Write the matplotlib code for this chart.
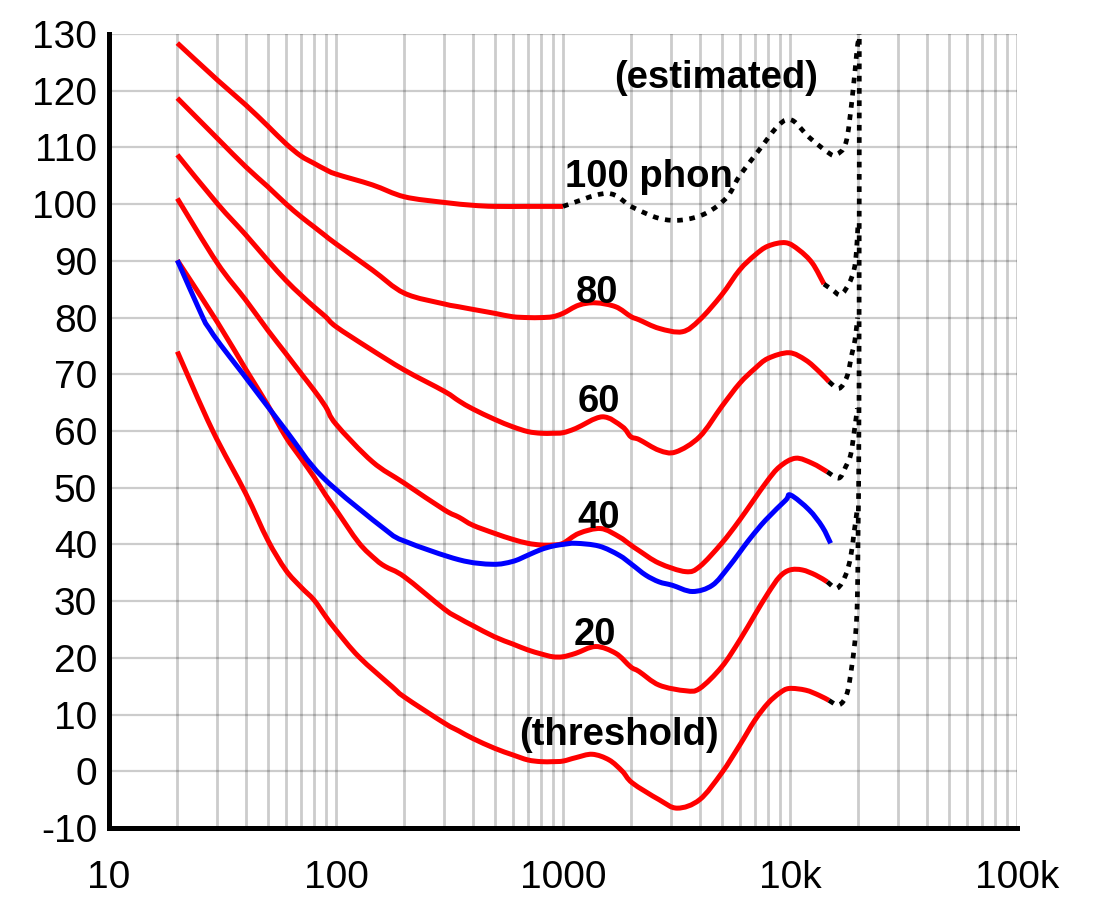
import numpy as np
import matplotlib
matplotlib.use("Agg")
import matplotlib.pyplot as plt
from matplotlib.path import Path
from matplotlib.patches import PathPatch
from matplotlib.ticker import FixedLocator, LogLocator, NullFormatter

plt.rcParams['font.family'] = ['Liberation Sans', 'DejaVu Sans']

# ---- data (frequency in Hz, level in dB SPL) ----
f_thr = [20, 28.5, 40, 50, 60, 70, 80, 90, 100, 126, 177, 200, 300, 348, 400, 500, 600, 700,
         800, 900, 1000, 1138, 1346, 1596, 1826, 2020, 2648, 3187, 4000, 5000, 6000, 7000,
         8000, 9000, 9909, 11730, 13420, 14850]
L_thr = [74.0, 60.2, 49.0, 40.8, 35.5, 32.5, 30.2, 27.3, 24.9, 20.2, 14.9, 13.1, 8.5, 7.1, 5.8,
         4.05, 2.9, 2.0, 1.7, 1.7, 1.8, 2.4, 3.0, 2.0, 0.0, -2.05, -5.0, -6.5, -5.0, -0.3, 4.6,
         9.0, 12.0, 13.8, 14.6, 14.3, 13.4, 12.5]

f_20 = [20, 30, 40, 50, 60, 70, 80, 90, 100, 126, 150, 165, 200, 300, 348, 400, 500, 600, 700,
        800, 900, 1000, 1138, 1393, 1708, 1988, 2163, 2648, 3470, 4000, 5000, 6000, 7000, 8000,
        9000, 10000, 11330, 12970, 14600]
L_20 = [90.1, 79.2, 70.9, 64.6, 59.0, 55.2, 51.9, 48.7, 46.1, 40.3, 37.3, 36.1, 34.3, 28.6, 27.0,
        25.7, 23.7, 22.45, 21.4, 20.7, 20.2, 20.2, 20.8, 22.0, 20.8, 18.4, 17.6, 15.2, 14.2,
        14.6, 18.4, 23.1, 27.6, 31.4, 34.3, 35.5, 35.5, 34.6, 33.4]

f_40 = [20, 30, 40, 50, 60, 70, 80, 90, 100, 144.5, 200, 300, 348, 400, 500, 600, 700, 800, 900,
        1000, 1175, 1466, 1766, 1988, 2163, 2648, 3470, 4000, 5000, 6000, 7811, 9000, 10590,
        12540, 14600]
L_40 = [101.0, 89.6, 83.1, 77.8, 73.7, 70.2, 67.2, 64.3, 61.2, 54.6, 50.8, 46.1, 44.8, 43.4,
        41.95, 40.9, 40.2, 39.9, 39.9, 40.2, 41.95, 42.8, 41.35, 39.9, 38.9, 36.7, 35.2, 36.1,
        40.2, 44.3, 50.8, 53.7, 55.2, 54.3, 52.8]

f_60 = [20, 30, 40, 50, 60, 70, 80, 90, 100, 139.7, 200, 300, 348, 400, 500, 600, 700, 800, 900,
        1000, 1138, 1490, 1826, 1988, 2163, 2648, 3135, 4000, 5000, 6000, 7000, 8000, 9909,
        11730, 13420, 14850]
L_60 = [108.7, 100.1, 94.6, 90.1, 86.6, 84.0, 81.9, 80.15, 78.4, 74.6, 70.75, 67.0, 65.3, 63.9,
        62.05, 60.75, 59.9, 59.6, 59.6, 59.7, 60.45, 62.5, 60.75, 59.0, 58.5, 56.6, 56.3, 59.0,
        64.3, 68.4, 71.0, 72.8, 73.8, 72.5, 70.5, 68.7]

f_80 = [20, 30, 40, 50, 60, 70, 80, 90, 100, 144.5, 200, 300, 348, 400, 500, 600, 700, 800, 900,
        1000, 1175, 1393, 1708, 1988, 2163, 2648, 3355, 4000, 5000, 6000, 7000, 8000, 9569,
        10960, 12540, 14120]
L_80 = [118.7, 111.6, 106.6, 103.1, 100.1, 97.8, 96.0, 94.4, 93.0, 88.4, 84.3, 82.4, 81.9, 81.45,
        80.75, 80.15, 80.0, 80.0, 80.15, 80.75, 82.2, 82.6, 81.9, 80.2, 79.6, 78.1, 77.5, 79.6,
        84.0, 88.4, 91.0, 92.6, 93.2, 91.9, 89.6, 85.9]

f_100 = [20, 30, 40, 50, 60, 70, 80, 90, 100, 144.5, 200, 300, 400, 500, 700, 1000]
L_100 = [128.4, 121.9, 117.5, 113.8, 110.7, 108.5, 107.2, 106.1, 105.3, 103.4, 101.3, 100.3,
         99.8, 99.6, 99.6, 99.6]

f_blue = [20, 25.8, 27.6, 31.0, 38.7, 59.9, 87.1, 165, 203, 348, 489, 600, 700, 800, 900, 1000,
          1138, 1443, 1766, 2020, 2312, 2648, 3030, 3715, 4548, 5386, 6597, 7811, 9570, 10070,
          12130, 13880, 15100]
L_blue = [90.1, 80.15, 78.1, 75.2, 70.2, 60.2, 51.9, 42.6, 40.5, 37.3, 36.5, 37.0, 38.1, 39.1,
          39.7, 40.0, 40.2, 39.7, 38.1, 36.4, 34.6, 33.4, 32.8, 31.7, 32.8, 36.1, 40.8, 44.3,
          47.8, 48.7, 46.1, 43.1, 40.2]

# estimated (dotted) continuations
fe_100 = [1000, 1563, 2014, 2648, 3340, 4266, 5272, 5957, 7295, 8951, 10210, 12130, 14850,
          15950, 17620, 18760, 19730, 20140, 20200]
Le_100 = [99.6, 101.9, 99.5, 97.5, 97.2, 98.4, 101.2, 104.8, 109.5, 114.0, 114.8, 111.8, 109.0,
          108.7, 110.8, 118.4, 127.2, 129.8, 135]
fe_80 = [14120, 15360, 16720, 18190, 19140, 19590, 19900]
Le_80 = [85.9, 84.9, 84.0, 86.0, 88.4, 91.4, 96.0]
fe_60 = [14850, 16430, 17820, 18760, 19320, 19850]
Le_60 = [68.7, 67.5, 69.6, 73.7, 76.0, 80.0]
fe_40 = [14600, 16430, 17590, 18500, 19140, 19800]
Le_40 = [52.8, 51.7, 53.7, 55.8, 59.6, 64.0]
fe_20 = [14600, 16150, 17590, 18500, 19140, 19750]
Le_20 = [33.4, 32.3, 34.6, 37.8, 42.0, 46.0]
fe_thr = [14850, 16430, 17820, 18790, 19460, 19790, 19950, 20140, 20200]
Le_thr = [12.5, 11.7, 13.7, 19.0, 24.3, 30.2, 42.0, 65.5, 135]

yticks = list(range(-10, 131, 10))
ytick_labels = ['-10', '0', '10', '20', '30', '40', '50', '60', '70', '80', '90', '100',
                '110', '120', '130']
xticks = [10, 100, 1000, 10000, 100000]
xtick_labels = ['10', '100', '1000', '10k', '100k']

labels = ['(estimated)', '100 phon', '80', '60', '40', '20', '(threshold)']
label_f = [4742, 2393, 1413, 1442, 1442, 1384, 1766]
label_L = [120.5, 103.0, 82.6, 63.4, 42.9, 22.3, 4.6]


def smooth_path(f, L):
    # Catmull-Rom through the read points, built in log-frequency space
    p = np.column_stack([np.log10(f), L])
    p = np.vstack([p[0], p, p[-1]])
    verts = [p[1]]
    codes = [Path.MOVETO]
    for i in range(1, len(p) - 2):
        c1 = p[i] + (p[i + 1] - p[i - 1]) / 6.
        c2 = p[i + 1] - (p[i + 2] - p[i]) / 6.
        verts += [c1, c2, p[i + 1]]
        codes += [Path.CURVE4] * 3
    verts = np.array(verts)
    verts[:, 0] = 10 ** verts[:, 0]
    return Path(verts, codes)


def draw_curve(ax, f, L, **kw):
    ax.add_patch(PathPatch(smooth_path(f, L), fill=False, transform=ax.transData, **kw))


# ---- figure ----
fig = plt.figure(figsize=(11, 9.18), dpi=100)
ax = fig.add_axes([109 / 1100, 90 / 918, 908 / 1100, 794 / 918])
ax.set_xscale('log')
ax.set_xlim(10, 100000)
ax.set_ylim(-10, 130)

red = '#ff0000'
lw = 3.6
for f, L in [(f_thr, L_thr), (f_20, L_20), (f_40, L_40), (f_60, L_60), (f_80, L_80),
             (f_100, L_100)]:
    draw_curve(ax, f, L, edgecolor=red, lw=lw, capstyle='butt', joinstyle='round', zorder=3)
draw_curve(ax, f_blue, L_blue, edgecolor='#0000ff', lw=lw, capstyle='butt',
           joinstyle='round', zorder=4)

for f, L in [(fe_100, Le_100), (fe_80, Le_80), (fe_60, Le_60), (fe_40, Le_40),
             (fe_20, Le_20), (fe_thr, Le_thr)]:
    draw_curve(ax, f, L, edgecolor='black', lw=3.4, linestyle=(0, (1.2, 1.4)), zorder=5)

for txt, f, L in zip(labels, label_f, label_L):
    ax.text(f, L, txt, fontsize=27.5, fontweight='bold', ha='center', va='baseline', zorder=6)

ax.xaxis.set_major_locator(FixedLocator(xticks))
ax.xaxis.set_minor_locator(LogLocator(base=10, subs=range(2, 10)))
ax.xaxis.set_minor_formatter(NullFormatter())
ax.set_xticklabels(xtick_labels)
ax.set_yticks(yticks)
ax.set_yticklabels(ytick_labels)
ax.tick_params(axis='both', which='both', length=0, labelsize=28)
ax.tick_params(axis='x', pad=23)
ax.tick_params(axis='y', pad=8.5)

ax.grid(True, axis='x', which='both', color='black', alpha=0.2, lw=2.0, zorder=0)
ax.grid(True, axis='y', which='major', color='black', alpha=0.2, lw=1.6, zorder=0)
ax.set_axisbelow(True)

for s in ['top', 'right']:
    ax.spines[s].set_visible(False)
for s in ['left', 'bottom']:
    ax.spines[s].set_linewidth(3.6)
    ax.spines[s].set_color('black')

fig.savefig('out.png', dpi=100)
